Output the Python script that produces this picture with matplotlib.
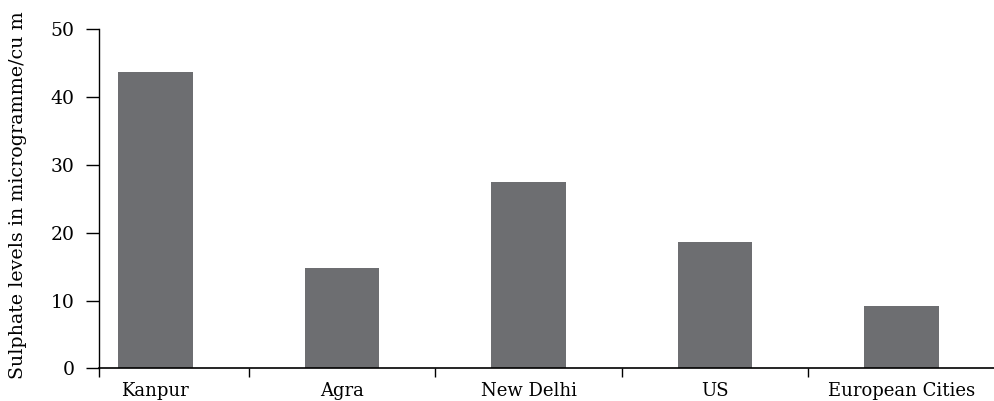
import numpy as np
import matplotlib.pyplot as plt

# Data
cities = ['Kanpur', 'Agra', 'New Delhi', 'US', 'European Cities']
sulphate = [43.7, 14.8, 27.5, 18.6, 9.2]
y_ticks = [0, 10, 20, 30, 40, 50]

plt.rcParams['font.family'] = ['DejaVu Serif']

fig = plt.figure(figsize=(9.95, 4.01), dpi=100)
ax = fig.add_axes([99 / 995, (401 - 368.3) / 401, (995 - 99) / 995, (368.3 - 29.3) / 401])

x = np.arange(len(cities))
ax.bar(x, sulphate, width=0.4, color='#6d6e71', zorder=2)

x_left = -0.302
ax.set_xlim(x_left, 4.5)
ax.set_ylim(0, 50)
ax.set_yticks(y_ticks)
ax.set_yticklabels([str(t) for t in y_ticks], fontsize=13.5)

# category boundaries get the tick marks, names sit centred with no tick
ax.set_xticks([x_left] + list(x[:-1] + 0.5))
ax.set_xticklabels([])
ax.set_xticks(x, minor=True)
ax.set_xticklabels(cities, minor=True, fontsize=13)
ax.tick_params(axis='x', which='major', length=6.5, width=1, direction='out')
ax.tick_params(axis='x', which='minor', length=0, pad=10)
ax.tick_params(axis='y', length=9.5, width=1, direction='out', pad=8)

ax.spines['top'].set_visible(False)
ax.spines['right'].set_visible(False)
ax.spines['left'].set_linewidth(1)
ax.spines['bottom'].set_linewidth(1.2)

ax.set_ylabel('Sulphate levels in microgramme/cu m', fontsize=13.7)
ax.yaxis.set_label_coords(-0.0804, 0.511)

fig.savefig('out.png', dpi=100)
